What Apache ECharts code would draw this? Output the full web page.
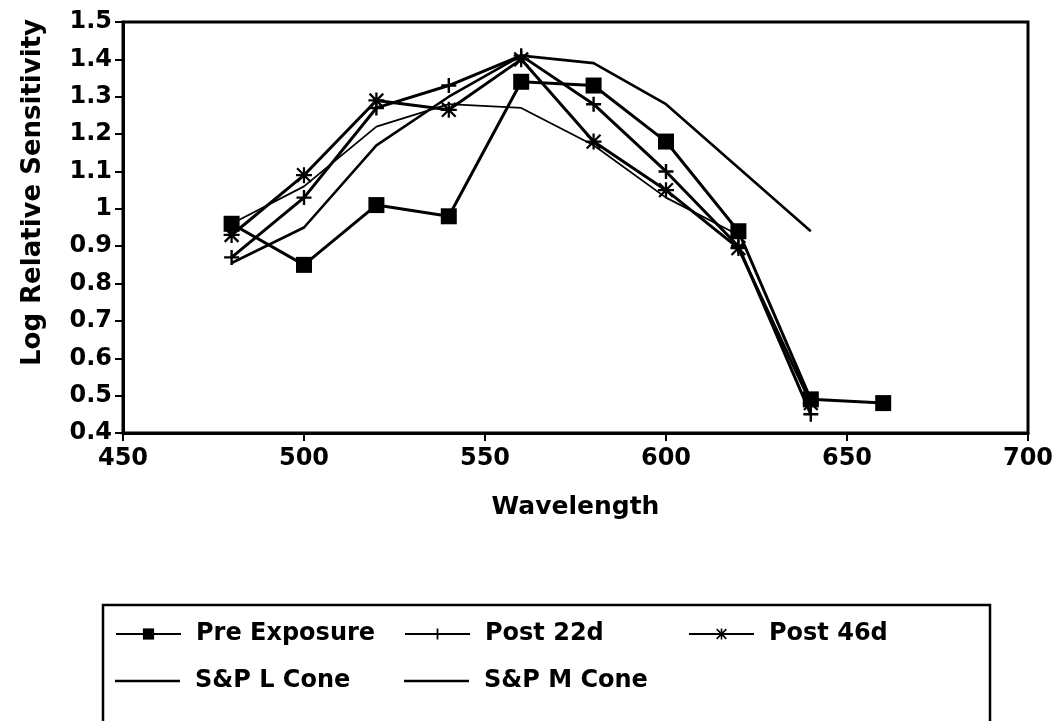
<!DOCTYPE html>
<html>

<head>
  <meta charset="utf-8" />
  <script src="https://cdn.jsdelivr.net/npm/echarts@6/dist/echarts.min.js"></script>
  <style>
    html, body { margin: 0; padding: 0; background: #fff; }
    #chart { width: 1059px; height: 721px; }
  </style>
</head>

<body>
  <div id="chart"></div>
  <script type="text/javascript">
    // wavelengths (nm) and log relative sensitivity
    const wavelengths = [480, 500, 520, 540, 560, 580, 600, 620, 640, 660];
    const preExposure = [0.96, 0.85, 1.01, 0.98, 1.34, 1.33, 1.18, 0.94, 0.49, 0.48];
    const post22d = [0.87, 1.03, 1.27, 1.33, 1.41, 1.28, 1.10, 0.90, 0.45];
    const post46d = [0.93, 1.09, 1.29, 1.265, 1.40, 1.18, 1.05, 0.895, 0.48];
    const lCone = [0.855, 0.95, 1.17, 1.30, 1.41, 1.39, 1.28, 1.11, 0.94];
    const mCone = [0.96, 1.06, 1.22, 1.28, 1.27, 1.17, 1.03, 0.93];

    const FONT = "DejaVu Sans";
    const plusSymbol = 'path://M4.2,0H5.8V4.2H10V5.8H5.8V10H4.2V5.8H0V4.2H4.2Z';
    const starSymbol = 'path://M4.3,0H5.7V10H4.3Z M0,4.3H10V5.7H0Z M1.2,0.2L9.8,8.8L8.8,9.8L0.2,1.2Z M8.8,0.2L9.8,1.2L1.2,9.8L0.2,8.8Z';
    // plain line for the legend of the cone curves (tiny corner dots keep the bbox full height)
    const lineIcon = 'path://M0,5.7H65V8.3H0Z M0,0H0.01V0.01H0Z M64.99,14H65V14.01H64.99Z';

    const pairs = vals => vals.map((v, i) => [wavelengths[i], v]);

    const chart = echarts.init(document.getElementById("chart"));

    const lineSeries = (name, vals, symbol, size, width) => ({
      name: name,
      type: 'line',
      data: pairs(vals),
      symbol: symbol,
      symbolSize: size,
      showSymbol: symbol !== 'none',
      lineStyle: { color: '#000', width: width },
      itemStyle: { color: '#000' },
      z: 3
    });

    const legendAt = (item, left, top) => ({
      data: [item],
      left: left,
      top: top,
      itemWidth: 65,
      itemHeight: 14,
      padding: 0,
      textStyle: {
        fontFamily: FONT, fontWeight: 'bold', fontSize: 24, color: '#000',
        padding: [0, 0, 0, 10]
      }
    });

    var option = {
      animation: false,
      backgroundColor: '#fff',
      grid: {
        left: 123, right: 31, top: 22, bottom: 288,
        outerBoundsMode: 'none',
        show: true, borderColor: '#000', borderWidth: 3
      },
      xAxis: {
        type: 'value',
        min: 450, max: 700, interval: 50,
        name: 'Wavelength',
        nameLocation: 'middle',
        nameGap: 62,
        nameTextStyle: { fontFamily: FONT, fontWeight: 'bold', fontSize: 25, color: '#000' },
        axisLine: { show: true, lineStyle: { color: '#000', width: 3 } },
        axisTick: { show: true, inside: false, length: 8, lineStyle: { color: '#000', width: 2 } },
        axisLabel: { fontFamily: FONT, fontWeight: 'bold', fontSize: 24, color: '#000', margin: 14 },
        splitLine: { show: false }
      },
      yAxis: {
        type: 'value',
        min: 0.4, max: 1.5, interval: 0.1,
        name: 'Log Relative Sensitivity',
        nameLocation: 'middle',
        nameGap: 77,
        nameTextStyle: {
          fontFamily: FONT, fontWeight: 'bold', fontSize: 26, color: '#000',
          padding: [0, 0, 0, 70]
        },
        axisLine: { show: true, lineStyle: { color: '#000', width: 3 } },
        axisTick: { show: true, inside: false, length: 8, lineStyle: { color: '#000', width: 2 } },
        axisLabel: {
          fontFamily: FONT, fontWeight: 'bold', fontSize: 24, color: '#000', margin: 11,
          formatter: v => String(+v.toFixed(1))
        },
        splitLine: { show: false }
      },
      legend: [
        legendAt('Pre Exposure', 115, 622),
        legendAt('Post 22d', 404, 622),
        legendAt('Post 46d', 688, 622),
        legendAt({ name: 'S&P L Cone', icon: lineIcon }, 115, 669),
        legendAt({ name: 'S&P M Cone', icon: lineIcon }, 404, 669)
      ],
      graphic: [
        {
          type: 'rect',
          shape: { x: 103, y: 605, width: 887, height: 140 },
          style: { fill: 'none', stroke: '#000', lineWidth: 2.5 },
          silent: true
        }
      ],
      series: [
        lineSeries('Pre Exposure', preExposure, 'rect', 16, 3),
        lineSeries('Post 22d', post22d, plusSymbol, 15, 3),
        lineSeries('Post 46d', post46d, starSymbol, 16, 3),
        lineSeries('S&P L Cone', lCone, 'none', 0, 2.6),
        lineSeries('S&P M Cone', mCone, 'none', 0, 1.8)
      ]
    };

    chart.setOption(option);

    window.onresize = () => {
      chart?.resize();
    };
  </script>
</body>

</html>
